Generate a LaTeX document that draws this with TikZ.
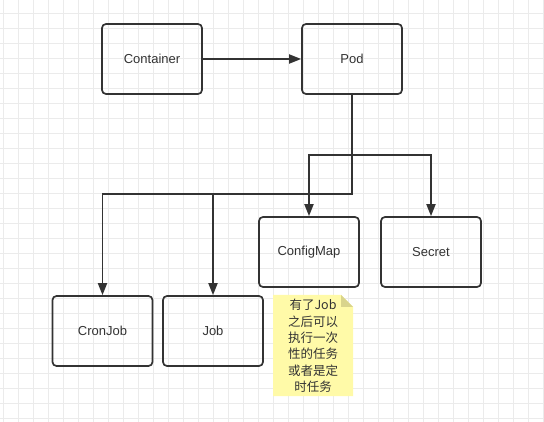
\documentclass[tikz,border=0pt]{standalone}
\usepackage{fontspec}
\setmainfont{Liberation Sans}
\newfontfamily\cjk{Noto Sans CJK SC}
\usetikzlibrary{arrows.meta}
\definecolor{ink}{HTML}{333333}
\definecolor{gridgray}{HTML}{EBEBEB}
\definecolor{notefill}{HTML}{FFFAA8}
\definecolor{notefold}{HTML}{D9D48C}

\begin{document}
\begin{tikzpicture}[x=1pt,y=-1pt,
    box/.style={draw=ink, line width=1.7pt, rounded corners=4pt,
      minimum width=100pt, minimum height=70pt, inner sep=0pt,
      text=ink, font=\fontsize{13}{15}\selectfont},
    link/.style={draw=ink, line width=1.9pt,
      -{Triangle[length=12pt,width=9pt]}}]
  \useasboundingbox (0,0) rectangle (544,422);
  \fill[white] (0,0) rectangle (544,422);
  % background grid
  \foreach \gx in {3,18,...,543}
    \draw[gridgray, line width=0.8pt] (\gx,0) -- (\gx,422);
  \foreach \gy in {13,28,...,418}
    \draw[gridgray, line width=0.8pt] (0,\gy) -- (544,\gy);

  % boxes
  \node[box] (container) at (152,59) {Container};
  \node[box] (pod) at (352,59) {Pod};
  \node[box] (configmap) at (309,252) {ConfigMap};
  \node[box] (secret) at (431,252) {Secret};
  \node[box] (cronjob) at (102.5,331) {CronJob};
  \node[box] (job) at (213,331) {Job};

  % note
  \fill[notefill] (273,295) -- (341,295) -- (353,307) -- (353,396) -- (273,396) -- cycle;
  \fill[notefold] (341,295) -- (353,307) -- (341,307) -- cycle;
  \node[font=\cjk\fontsize{12.5}{16.3}\selectfont, align=center, text=ink,
    inner sep=0pt] (note) at (313,346) {有了Job\\之后可以\\执行一次\\性的任务\\或者是定\\时任务};

  % connectors
  \coordinate (podturn) at (pod.south |- 0,194);
  \coordinate (mapbar) at (pod.south |- 0,155);
  \draw[link] (container) -- (pod);
  \draw[link] (pod.south) -- (podturn) -| (cronjob.north);
  \draw[link] (job.north |- podturn) -- (job.north);
  \draw[link] (mapbar) -| (configmap.north);
  \draw[link] (mapbar) -| (secret.north);
\end{tikzpicture}
\end{document}
